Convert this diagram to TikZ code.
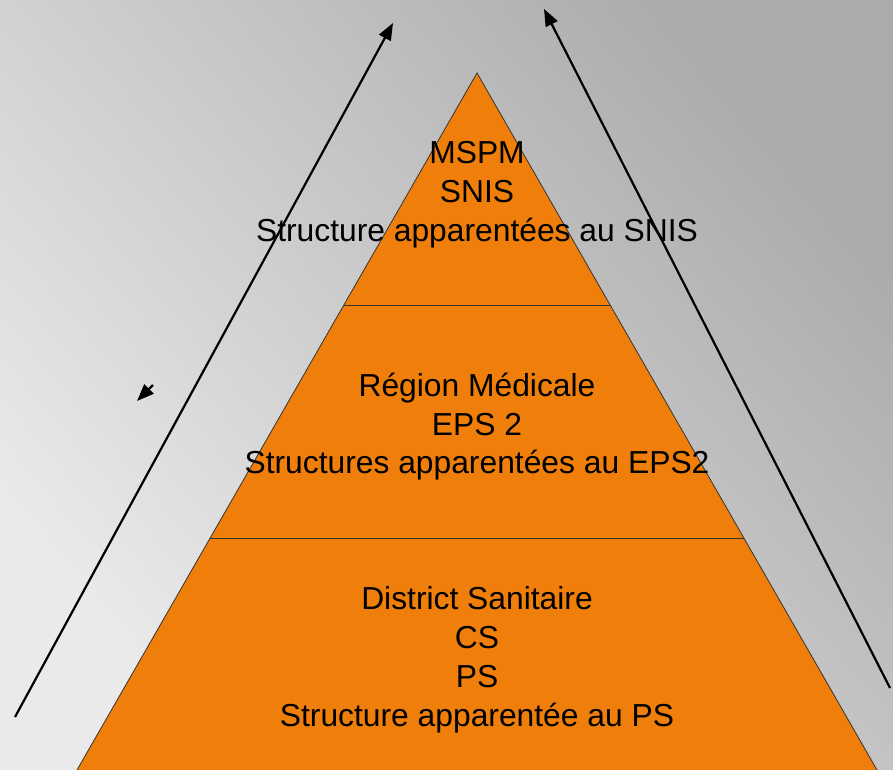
\documentclass[tikz,border=0pt]{standalone}
\usepackage{fontspec}
\setmainfont{Liberation Sans}
\usetikzlibrary{arrows.meta}
\definecolor{pyr}{HTML}{EF7F0A}
\definecolor{bgDark}{HTML}{ABABAB}
\definecolor{bgLight}{HTML}{EAEAEA}
\tikzset{
  lbl/.style={anchor=base, inner sep=0pt, font=\fontsize{31.8}{38}\selectfont, text=black},
  arr/.style={draw=black, line width=2.2pt, -{Triangle[length=17pt,width=13pt]}},
  edge/.style={draw=black!80, line width=0.8pt}
}
\begin{document}
\begin{tikzpicture}[x=1pt,y=-1pt]
\useasboundingbox (0,0) rectangle (893,770);
\shade[top color=bgDark, bottom color=bgLight, shading angle=-50] (0,770) rectangle (893,0);
% pyramid
\coordinate (apex) at (477,73);
\coordinate (bl) at (77,770);
\coordinate (br) at (877,770);
\coordinate (l1) at (344,305);
\coordinate (r1) at (610,305);
\coordinate (l2) at (210,538);
\coordinate (r2) at (744,538);
\fill[pyr] (apex) -- (br) -- (bl) -- cycle;
\draw[edge] (bl) -- (apex) -- (br);
\draw[edge] (l1) -- (r1);
\draw[edge] (l2) -- (r2);
% texts
\node[lbl] (t1) at (477,164) {MSPM};
\node[lbl] (t2) at (477,202.5) {SNIS};
\node[lbl] (t3) at (477,241.5) {Structure apparentées au SNIS};
\node[lbl] (m1) at (477,396.5) {Région Médicale};
\node[lbl] (m2) at (477,435.5) {EPS 2};
\node[lbl] (m3) at (477,473.5) {Structures apparentées au EPS2};
\node[lbl] (b1) at (477,609.5) {District Sanitaire};
\node[lbl] (b2) at (477,648.5) {CS};
\node[lbl] (b3) at (477,687.5) {PS};
\node[lbl] (b4) at (477,726.5) {Structure apparentée au PS};
% arrows
\coordinate (la0) at (15,717);
\coordinate (la1) at (393,23);
\coordinate (ra0) at (890,688);
\coordinate (ra1) at (544,9);
\coordinate (sa0) at (153,385);
\coordinate (sa1) at (137,401);
\draw[arr] (la0) -- (la1);
\draw[arr] (ra0) -- (ra1);
\draw[arr] (sa0) -- (sa1);
\end{tikzpicture}
\end{document}
